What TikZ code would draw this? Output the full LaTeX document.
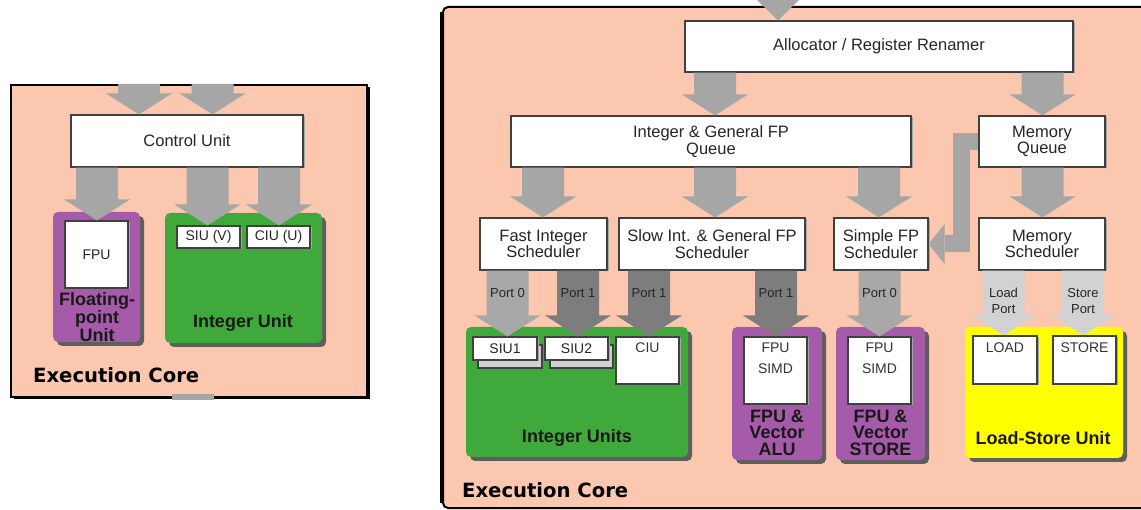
\documentclass[tikz,border=0pt]{standalone}
\usepackage{fontspec}
\setmainfont{Liberation Sans}
\newfontfamily\corefont{DejaVu Sans}
\usetikzlibrary{calc,shadows}

\definecolor{corebg}{HTML}{FBC8AF}
\definecolor{intgreen}{HTML}{3FAA3B}
\definecolor{fppurple}{HTML}{A65BAA}
\definecolor{lsyellow}{HTML}{FFFF00}
\definecolor{flowgray}{HTML}{A6A6A6}
\definecolor{portdark}{HTML}{7D7D7D}
\definecolor{portmid}{HTML}{A8A8A8}
\definecolor{portlight}{HTML}{D2D2D2}
\definecolor{unitshadow}{HTML}{5E5E5E}

% rectangle node given by its two corners (x1,y1) (x2,y2)
\newcommand\placebox[7]{%
  \node[#1, minimum width={(#5-#3)*1pt}, minimum height={(#6-#4)*1pt}]
    (#2) at ({(#3+#5)/2},{(#4+#6)/2}) {#7};}

% broad downward block arrow at column x=#2, from node anchor #3 to node anchor #4
\newcommand\flowarrow[4][flowgray]{%
  \fill[#1] let \p1=(#3), \p2=(#4) in
    ({(#2-21)*1pt},\y1) -- ({(#2+21)*1pt},\y1) -- ({(#2+21)*1pt},{\y2+21pt})
    -- ({(#2+33)*1pt},{\y2+21pt}) -- ({#2*1pt},\y2)
    -- ({(#2-33)*1pt},{\y2+21pt}) -- ({(#2-21)*1pt},{\y2+21pt}) -- cycle;}

\begin{document}
\begin{tikzpicture}[x=1pt,y=-1pt,
  panel/.style={draw=black, line width=2pt, fill=corebg, inner sep=0pt},
  wbox/.style={draw=black!75, line width=1.1pt, fill=white, inner sep=0pt,
    align=center, text=black!85, font=\fontsize{16.5}{16.5}\selectfont,
    drop shadow={shadow xshift=1.5pt, shadow yshift=-1.5pt, fill=black!35, opacity=1}},
  ibox/.style={wbox, font=\fontsize{14}{14}\selectfont},
  backbox/.style={draw=black!75, line width=1.1pt, fill=black!18, inner sep=0pt},
  unit/.style={rounded corners=5pt, inner sep=0pt,
    drop shadow={shadow xshift=4pt, shadow yshift=-4pt, fill=unitshadow, opacity=1}},
  unitlbl/.style={font=\bfseries\fontsize{18}{16.5}\selectfont, align=center,
    inner sep=0pt, text=black!90},
  corelbl/.style={font=\corefont\bfseries\fontsize{19.6}{19.6}\selectfont,
    anchor=west, inner sep=0pt},
  portlbl/.style={font=\fontsize{13}{16}\selectfont, align=center, inner sep=0pt,
    text=black!85},
  itext/.style={font=\fontsize{14}{21}\selectfont, align=center, inner sep=0pt,
    text=black!80}]

\useasboundingbox (0,0) rectangle (1141,510);
\fill[white] (0,0) rectangle (1141,510);
\clip (0,0) rectangle (1141,510);

% ---------------- in-order core ----------------
\placebox{panel, drop shadow={shadow xshift=2.5pt, shadow yshift=-2.5pt, fill=black, opacity=1}}{lpanel}{11}{85}{367}{397}{}
\fill[flowgray] (172,394.5) rectangle (214,400);

\placebox{wbox}{ctrl}{71}{115}{303}{167}{Control Unit}
\placebox{unit, fill=fppurple}{fpunit}{53}{212}{140}{342}{}
\placebox{unit, fill=intgreen}{intunit}{165}{213}{322}{343}{}
\placebox{ibox}{fpu}{65}{221}{128}{288}{FPU}
\placebox{ibox}{siuv}{177}{226}{240}{248}{SIU (V)}
\placebox{ibox}{ciuu}{247}{226}{310}{248}{CIU (U)}

\flowarrow{139}{lpanel.north}{ctrl.north}
\flowarrow{212.5}{lpanel.north}{ctrl.north}
\flowarrow{97}{ctrl.south}{fpu.north}
\flowarrow{207.5}{ctrl.south}{siuv.north}
\flowarrow{279}{ctrl.south}{ciuu.north}

\node[unitlbl] (fplbl) at (97,317) {Floating-\\point\\Unit};
\node[unitlbl] (intlbl) at (243,323) {Integer Unit};
\node[corelbl] (lcore) at (33,375) {Execution Core};

% ---------------- out-of-order core ----------------
\placebox{panel, rounded corners=5pt}{rpanel}{443}{7}{1180}{508}{}
\draw[line width=3.5pt] ($(rpanel.north west)+(0,6)$) -- ($(rpanel.south west)+(0,-6)$);

\placebox{wbox}{alloc}{685}{21}{1073}{72}{Allocator / Register Renamer}
\placebox{wbox}{intq}{511}{116}{911}{167}{Integer \& General FP\\Queue}
\placebox{wbox}{memq}{979}{116}{1105}{167}{Memory\\Queue}
\placebox{wbox}{fastsch}{480}{218}{607}{270}{Fast Integer\\Scheduler}
\placebox{wbox}{slowsch}{619}{218}{805}{270}{Slow Int. \& General FP\\Scheduler}
\placebox{wbox}{simplesch}{834}{218}{928}{270}{Simple FP\\Scheduler}
\placebox{wbox}{memsch}{979}{218}{1105}{270}{Memory\\Scheduler}

\placebox{unit, fill=intgreen}{intunits}{466}{327}{688}{457}{}
\placebox{unit, fill=fppurple}{fpalu}{732}{327}{822}{460}{}
\placebox{unit, fill=fppurple}{fpstore}{836}{327}{925}{460}{}
\placebox{unit, fill=lsyellow}{lsu}{965}{327}{1123}{458}{}

\placebox{backbox}{siu1b}{478}{345}{542}{368}{}
\placebox{ibox}{siu1}{473}{337}{537}{360}{SIU1}
\placebox{backbox}{siu2b}{550}{345}{613}{368}{}
\placebox{ibox}{siu2}{545}{337}{608}{360}{SIU2}
\placebox{ibox}{ciu}{616}{337}{679}{384}{}
\placebox{ibox}{simda}{744}{337}{807}{404}{}
\placebox{ibox}{simds}{848}{337}{911}{404}{}
\placebox{ibox}{load}{973}{336}{1037}{384}{}
\placebox{ibox}{store}{1053}{336}{1116}{384}{}

\node[itext] (ciut) at (647.5,348) {CIU};
\node[itext] (simdat) at (775.5,358.5) {FPU\\SIMD};
\node[itext] (simdst) at (879.5,358.5) {FPU\\SIMD};
\node[itext] (loadt) at (1005,348) {LOAD};
\node[itext] (storet) at (1084.5,348) {STORE};

% dispatch flow; the incoming arrow's head is all that shows above the allocator
\coordinate (allocin) at (778,-4);
\fill[flowgray] let \p1=(allocin), \p2=(alloc.north) in
  (\x1-25pt,\y1) -- (\x1+25pt,\y1) -- (\x1,\y2) -- cycle;
\flowarrow{715}{alloc.south}{intq.north}
\flowarrow{1042.5}{alloc.south}{memq.north}
\flowarrow{543}{intq.south}{fastsch.north}
\flowarrow{715}{intq.south}{slowsch.north}
\flowarrow{879}{intq.south}{simplesch.north}
\flowarrow{1042.5}{memq.south}{memsch.north}

% memory queue feeding the simple FP scheduler
\draw[flowgray, line width=17pt] (memq.west) -- ++(-17,0) |- ($(simplesch.east)+(16,0)$);
\fill[flowgray] let \p1=(simplesch.east) in
  (\x1+16pt,\y1+20pt) -- (\x1+16pt,\y1-20pt) -- (\x1,\y1) -- cycle;

% issue ports
\flowarrow[portmid]{507.5}{fastsch.south}{siu1.north}
\flowarrow[portdark]{578}{fastsch.south}{siu2.north}
\flowarrow[portdark]{649}{slowsch.south}{ciu.north}
\flowarrow[portdark]{776}{slowsch.south}{simda.north}
\flowarrow[portmid]{879.5}{simplesch.south}{simds.north}
\flowarrow[portlight]{1003.5}{memsch.south}{load.north}
\flowarrow[portlight]{1083}{memsch.south}{store.north}

\node[portlbl] (p0fast) at (507.5,293) {Port 0};
\node[portlbl] (p1fast) at (578,293) {Port 1};
\node[portlbl] (p1slow) at (649,293) {Port 1};
\node[portlbl] (p1alu) at (776,293) {Port 1};
\node[portlbl] (p0st) at (879.5,293) {Port 0};
\node[portlbl] (lport) at (1003.5,301) {Load\\Port};
\node[portlbl] (sport) at (1083,301) {Store\\Port};

\node[unitlbl] (intulbl) at (577,438) {Integer Units};
\node[unitlbl] (alulbl) at (777,432.5) {FPU \&\\Vector\\ALU};
\node[unitlbl] (stlbl) at (880.5,432.5) {FPU \&\\Vector\\STORE};
\node[unitlbl] (lsulbl) at (1043,438) {Load-Store Unit};
\node[corelbl] (rcore) at (462,490) {Execution Core};

\end{tikzpicture}
\end{document}
